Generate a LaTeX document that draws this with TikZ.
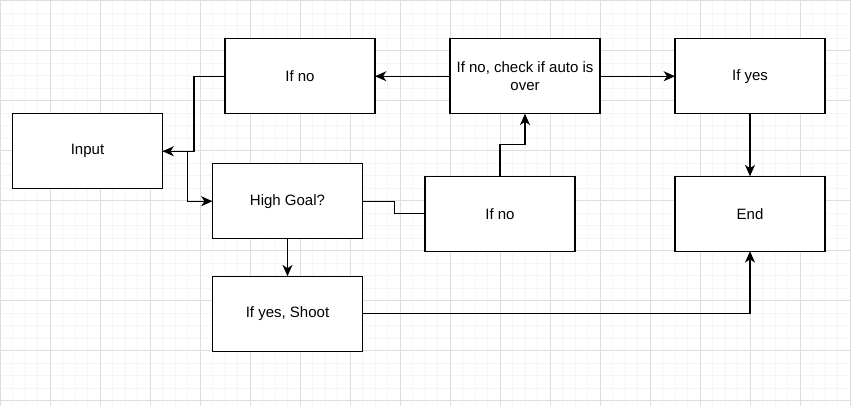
\documentclass[tikz,border=0pt]{standalone}
\usepackage{fontspec}
\setmainfont{Liberation Sans}
\usetikzlibrary{positioning}
\usetikzlibrary{arrows.meta}
\tikzset{box/.style={rectangle,draw=black,fill=white,line width=1pt,outer sep=0pt,minimum width=112.5pt,minimum height=56.25pt,align=center,inner sep=2pt,font=\fontsize{11.25}{13.5}\selectfont}}
\tikzset{line/.style={draw=black,line width=1pt}}
\tikzset{link/.style={line,-{Stealth[length=8.5pt,width=7.5pt,inset=2.5pt]}}}
\tikzset{minor/.style={draw=black!4,line width=0.75pt}}
\tikzset{major/.style={draw=black!13,line width=0.75pt}}

\begin{document}
\begin{tikzpicture}[x=0.75pt,y=-0.75pt]
            \useasboundingbox (0,0) rectangle (851,406);
            \fill[white] (0,0) rectangle (851,406);
            % grid
            \foreach \i in {0,...,68} \draw[minor] (\i*12.5,0) -- (\i*12.5,406);
            \foreach \i in {0,...,32} \draw[minor] (0,1+\i*12.5) -- (851,1+\i*12.5);
            \foreach \i in {0,...,17} \draw[major] (\i*50,0) -- (\i*50,406);
            \foreach \i in {0,...,8} \draw[major] (0,1+\i*50) -- (851,1+\i*50);
            % boxes
            \node [box] (check) at (525,76.25) {If no, check if auto is\\over};
            \node [box,left=56.25pt of check] (ifnotop) {If no};
            \node [box,right=56.25pt of check] (ifyestop) {If yes};
            \node [box,below=46.875pt of ifyestop] (end) {End};
            \node [box,left=75pt of end] (ifnomid) {If no};
            \node [box] (input) at (87.5,151.25) {Input};
            \node [box] (high) at (287.5,201.25) {High Goal?};
            \node [box,below=28.125pt of high] (shoot) {If yes, Shoot};
            % connectors
            \draw[link] (check) -- (ifnotop);
            \draw[link] (check) -- (ifyestop);
            \draw[link] (ifnotop.west) -- ++(-31,0) |- (input.east);
            \draw[link] (input.east) -- ++(25,0) |- (high.west);
            \draw[line] (high.east) -- ++(32,0) |- (ifnomid.west);
            \draw[link] (ifnomid.north) -- ++(0,-32) -| (check.south);
            \draw[link] (ifyestop) -- (end);
            \draw[link] (high) -- (shoot);
            \draw[link] (shoot.east) -| (end.south);
        \end{tikzpicture}
\end{document}
